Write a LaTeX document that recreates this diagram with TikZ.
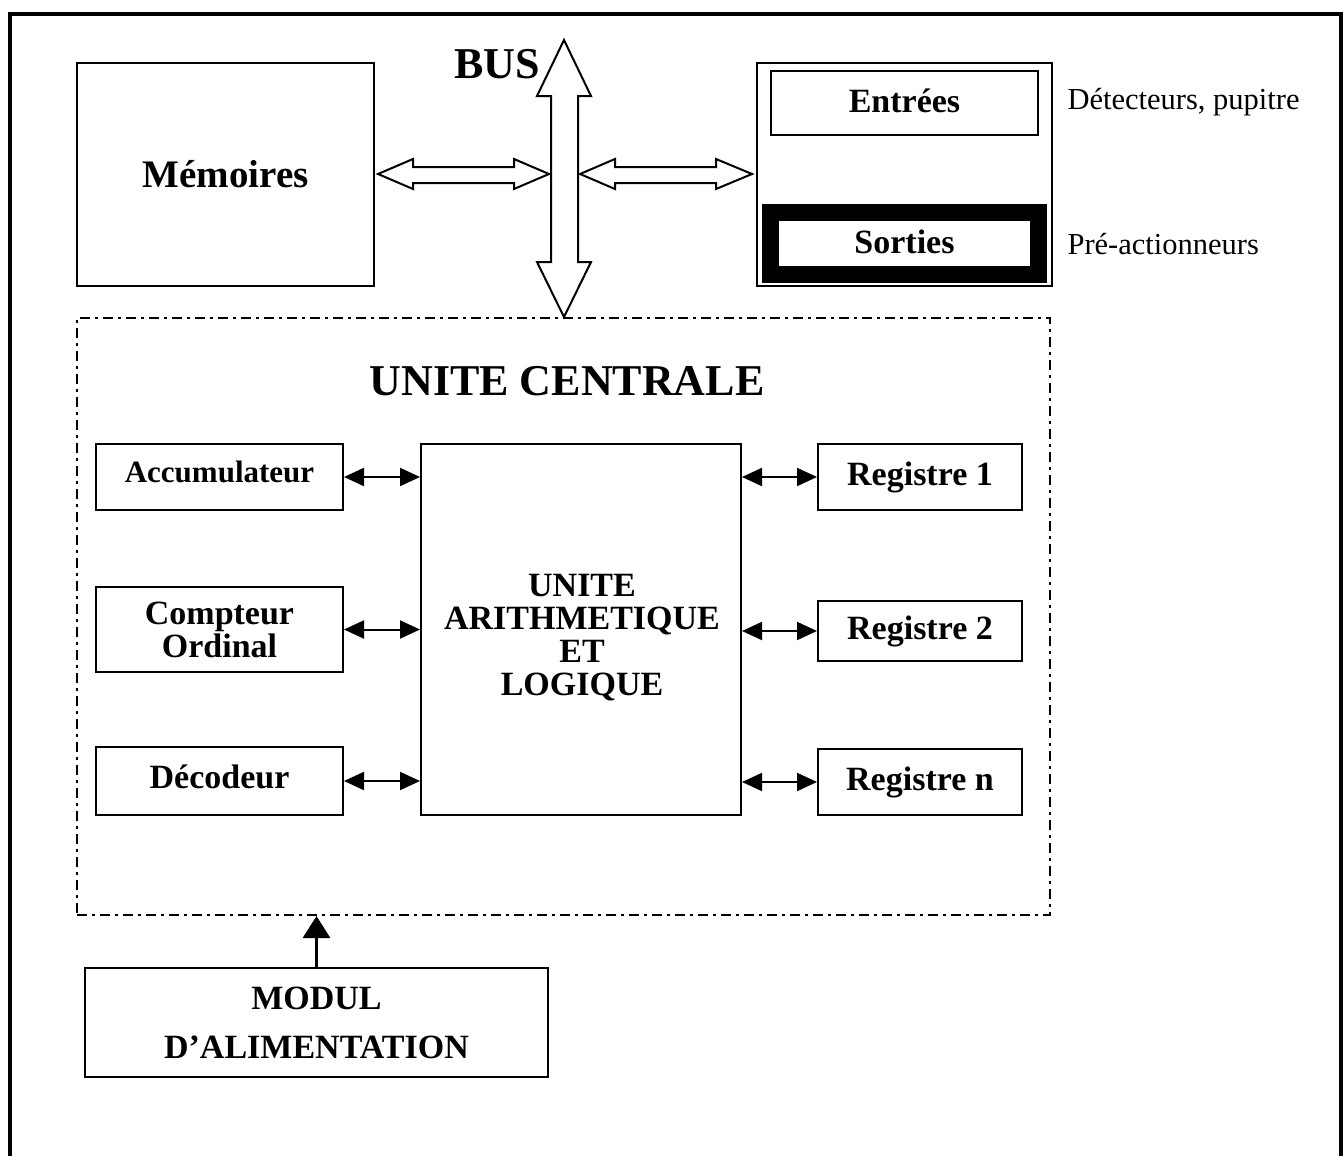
\documentclass[tikz,border=0pt]{standalone}
\usepackage{fontspec}
\setmainfont{Liberation Serif}
\usetikzlibrary{arrows.meta}
\begin{document}
\begin{tikzpicture}[x=1pt,y=-1pt,
  boxfont/.style={font=\bfseries\fontsize{34}{33}\selectfont},
  box/.style={draw, line width=2pt, inner sep=0pt, align=center, boxfont},
  link/.style={line width=2pt,
    {Triangle[length=20pt,width=18pt]}-{Triangle[length=20pt,width=18pt]}},
  busarrow/.style={draw, line width=2pt, fill=white, line join=miter},
  frontier/.style={draw, line width=2pt, dash pattern=on 10pt off 5pt on 3pt off 5pt},
  side/.style={anchor=base west, font=\fontsize{30.5}{30}\selectfont},
]
\useasboundingbox (0,0) rectangle (1344,1156);
\clip (0,0) rectangle (1344,1156);

% page frame (open at the bottom)
\draw[line width=4pt] (9.5,1170) -- (9.5,14) -- (1341,14) -- (1341,1170);

% memory and I/O blocks
\node[box, minimum width=297, minimum height=223,
  font=\bfseries\fontsize{39}{39}\selectfont] (mem) at (225.5,174.5) {Mémoires};
\node[box, minimum width=295, minimum height=223] (io) at (904.5,174.5) {};
\node[box, minimum width=267, minimum height=64, text depth=4pt] (in) at (904.5,103) {Entrées};
\node[box, line width=17pt, minimum width=268, minimum height=62, text depth=4pt] (out) at (904.5,243.5) {Sorties};
\node[side] (det) at (1064,109) {Détecteurs, pupitre};
\node[side] (pre) at (1064,254) {Pré-actionneurs};

% system bus
\node[font=\bfseries\fontsize{44}{44}\selectfont, anchor=base] (bus) at (497,78) {BUS};
\path[busarrow] (564,40) -- (591,96) -- (578,96) -- (578,262) -- (591,262) -- (564,317)
  -- (537,262) -- (551,262) -- (551,96) -- (537,96) -- cycle;
\path[busarrow] (378,174) -- (413,159) -- (413,167) -- (514,167) -- (514,159) -- (549,174)
  -- (514,189) -- (514,183) -- (413,183) -- (413,189) -- cycle;
\path[busarrow] (580,174) -- (615,159) -- (615,167) -- (716,167) -- (716,159) -- (752,174)
  -- (716,189) -- (716,183) -- (615,183) -- (615,189) -- cycle;

% central unit
\node[frontier, minimum width=973, minimum height=597] (uc) at (563.5,616.5) {};
\node[font=\bfseries\fontsize{44}{44}\selectfont, anchor=base] (uctitle) at (567,395) {UNITE CENTRALE};

\node[box, minimum width=247, minimum height=66, text depth=10pt,
  font=\bfseries\fontsize{31}{31}\selectfont] (acc) at (219.5,477) {Accumulateur};
\node[box, minimum width=247, minimum height=85] (cpt) at (219.5,629.5) {Compteur\\Ordinal};
\node[box, minimum width=247, minimum height=68, text depth=8pt] (dec) at (219.5,781) {Décodeur};
\node[box, minimum width=320, minimum height=371] (alu) at (581,629.5) {};
\node[boxfont, align=center, inner sep=0pt] (alutext) at (582,638) {UNITE\\ARITHMETIQUE\\ET\\LOGIQUE};
\node[box, minimum width=204, minimum height=66] (r1) at (920,477) {Registre 1};
\node[box, minimum width=204, minimum height=60] (r2) at (920,631) {Registre 2};
\node[box, minimum width=204, minimum height=66] (rn) at (920,782) {Registre n};

\draw[link] (acc.east) -- (acc.east -| alu.west);
\draw[link] (cpt.east) -- (cpt.east -| alu.west);
\draw[link] (dec.east) -- (dec.east -| alu.west);
\draw[link] (alu.east |- r1.west) -- (r1.west);
\draw[link] (alu.east |- r2.west) -- (r2.west);
\draw[link] (alu.east |- rn.west) -- (rn.west);

% power supply
\node[box, minimum width=463, minimum height=109] (mod) at (316.5,1022.5) {MODUL\\[16pt]D’ALIMENTATION};
\draw[line width=3pt, -{Triangle[length=22pt,width=27pt]}] (mod.north) -- (mod.north |- uc.south);
\end{tikzpicture}
\end{document}
